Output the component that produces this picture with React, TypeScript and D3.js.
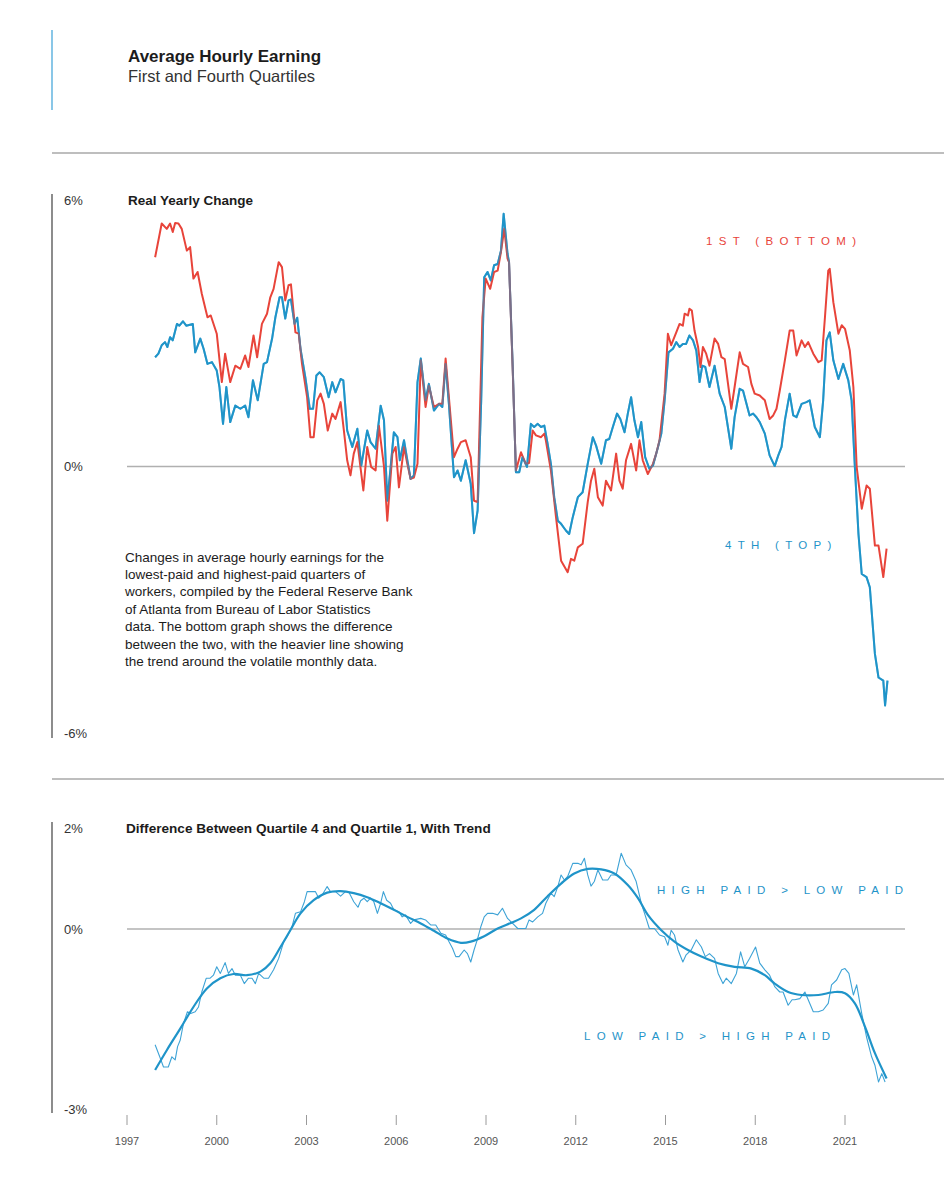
import * as d3 from 'd3'

// ── Data ────────────────────────────────────────────────────────────
// [decimal year, real yearly change %]
const firstQuartile: [number, number][] = [
  [1997.94, 4.71], [1998.16, 5.47], [1998.33, 5.35], [1998.44, 5.47], [1998.53, 5.28], [1998.61, 5.48], [1998.72, 5.47], [1998.83, 5.35],
  [1999.0, 4.86], [1999.11, 4.94], [1999.22, 4.23], [1999.36, 4.38], [1999.5, 3.89], [1999.69, 3.36], [1999.8, 3.4], [2000.0, 2.99],
  [2000.17, 1.9], [2000.28, 2.54], [2000.45, 1.9], [2000.62, 2.27], [2000.79, 2.2], [2000.95, 2.5], [2001.06, 2.24], [2001.23, 2.95],
  [2001.35, 2.46], [2001.51, 3.21], [2001.68, 3.44], [2001.79, 3.81], [2001.9, 4.0], [2002.07, 4.6], [2002.18, 4.49], [2002.29, 3.74],
  [2002.4, 4.08], [2002.48, 4.1], [2002.63, 3.02], [2002.74, 2.99], [2002.85, 2.31], [2003.02, 1.56], [2003.13, 0.66], [2003.24, 0.66],
  [2003.36, 1.49], [2003.47, 1.64], [2003.58, 1.41], [2003.71, 0.81], [2003.86, 1.19], [2003.97, 1.07], [2004.14, 1.45], [2004.25, 0.81],
  [2004.36, 0.14], [2004.47, -0.2], [2004.58, 0.29], [2004.7, 0.55], [2004.9, -0.54], [2005.03, 0.44], [2005.16, -0.01], [2005.31, -0.09],
  [2005.42, 0.92], [2005.59, 0.0], [2005.7, -1.22], [2005.87, 0.29], [2005.98, 0.44], [2006.09, -0.47], [2006.26, 0.44], [2006.37, 0.06],
  [2006.48, -0.28], [2006.59, -0.25], [2006.71, 0.06], [2006.82, 2.39], [2006.98, 1.34], [2007.09, 1.82], [2007.26, 1.34], [2007.43, 1.41],
  [2007.54, 1.41], [2007.65, 2.43], [2007.76, 1.56], [2007.93, 0.21], [2008.05, 0.4], [2008.16, 0.55], [2008.32, 0.59], [2008.49, 0.21],
  [2008.6, -0.77], [2008.72, -0.8], [2008.88, 3.36], [2008.99, 4.23], [2009.14, 4.0], [2009.27, 4.38], [2009.39, 4.41], [2009.5, 4.83],
  [2009.61, 5.35], [2009.72, 4.68], [2009.77, 4.6], [2009.89, 2.24], [2010.0, -0.09], [2010.17, 0.32], [2010.33, 0.06], [2010.44, 0.08],
  [2010.56, 0.81], [2010.67, 0.7], [2010.84, 0.66], [2010.95, 0.74], [2011.0, 0.59], [2011.17, -0.09], [2011.34, -1.14], [2011.51, -2.12],
  [2011.73, -2.38], [2011.84, -2.08], [2011.95, -2.12], [2012.07, -1.82], [2012.23, -1.74], [2012.4, -0.8], [2012.51, -0.32], [2012.62, -0.05],
  [2012.74, -0.69], [2012.9, -0.88], [2013.01, -0.32], [2013.18, -0.54], [2013.35, 0.29], [2013.46, -0.32], [2013.57, -0.5], [2013.68, 0.14],
  [2013.85, 0.51], [2014.02, -0.09], [2014.13, 0.59], [2014.24, 0.14], [2014.41, -0.17], [2014.58, 0.06], [2014.69, 0.29], [2014.8, 0.59],
  [2014.97, 1.64], [2015.08, 2.99], [2015.19, 2.73], [2015.36, 3.02], [2015.47, 3.21], [2015.58, 3.17], [2015.64, 3.44], [2015.75, 3.4],
  [2015.8, 3.55], [2015.88, 3.51], [2015.97, 3.06], [2016.09, 2.69], [2016.17, 2.24], [2016.25, 2.69], [2016.36, 2.54], [2016.47, 2.27],
  [2016.64, 2.88], [2016.76, 2.76], [2016.87, 2.46], [2016.98, 2.42], [2017.09, 1.86], [2017.2, 1.3], [2017.31, 1.79], [2017.48, 2.57],
  [2017.59, 2.31], [2017.76, 2.24], [2017.87, 1.86], [2017.98, 1.64], [2018.15, 1.6], [2018.32, 1.49], [2018.48, 1.07], [2018.6, 1.15],
  [2018.71, 1.3], [2018.82, 1.71], [2018.99, 2.39], [2019.15, 3.06], [2019.27, 3.06], [2019.38, 2.5], [2019.55, 2.84], [2019.66, 2.69],
  [2019.77, 2.8], [2019.94, 2.54], [2020.11, 2.35], [2020.22, 2.39], [2020.33, 3.36], [2020.44, 4.41], [2020.49, 4.45], [2020.61, 3.7],
  [2020.78, 2.99], [2020.89, 3.18], [2021.0, 3.1], [2021.16, 2.61], [2021.28, 1.79], [2021.39, -0.01], [2021.56, -0.95], [2021.72, -0.43],
  [2021.83, -0.5], [2022.0, -1.78], [2022.12, -1.78], [2022.28, -2.49], [2022.39, -1.85],
]

const fourthQuartile: [number, number][] = [
  [1997.94, 2.46], [1998.05, 2.54], [1998.16, 2.73], [1998.27, 2.8], [1998.35, 2.69], [1998.44, 2.91], [1998.53, 2.84], [1998.67, 3.21],
  [1998.75, 3.17], [1998.87, 3.27], [1998.98, 3.17], [1999.2, 3.21], [1999.28, 2.57], [1999.45, 2.88], [1999.56, 2.65], [1999.69, 2.31],
  [1999.84, 2.35], [2000.0, 2.16], [2000.09, 1.79], [2000.21, 0.96], [2000.32, 1.79], [2000.45, 1.0], [2000.62, 1.37], [2000.79, 1.3],
  [2000.95, 1.37], [2001.06, 1.11], [2001.21, 1.94], [2001.37, 1.49], [2001.57, 2.31], [2001.68, 2.35], [2001.85, 2.88], [2001.96, 3.36],
  [2002.1, 3.81], [2002.18, 3.81], [2002.29, 3.33], [2002.4, 3.74], [2002.48, 3.76], [2002.6, 3.21], [2002.69, 3.35], [2002.8, 2.65],
  [2002.96, 2.01], [2003.11, 1.3], [2003.22, 1.3], [2003.33, 2.05], [2003.44, 2.12], [2003.58, 2.01], [2003.74, 1.56], [2003.86, 1.9],
  [2003.97, 1.67], [2004.14, 1.97], [2004.23, 1.94], [2004.36, 0.81], [2004.53, 0.44], [2004.7, 0.85], [2004.83, 0.02], [2005.03, 0.81],
  [2005.14, 0.55], [2005.31, 0.4], [2005.48, 1.37], [2005.59, 1.04], [2005.7, -0.77], [2005.79, -0.17], [2005.92, 0.77], [2006.04, 0.66],
  [2006.12, 0.14], [2006.26, 0.59], [2006.37, 0.14], [2006.48, -0.28], [2006.59, -0.2], [2006.71, 1.9], [2006.82, 2.43], [2006.98, 1.49],
  [2007.09, 1.86], [2007.26, 1.26], [2007.43, 1.41], [2007.54, 1.34], [2007.65, 2.31], [2007.76, 1.41], [2007.93, -0.24], [2008.05, -0.09],
  [2008.16, -0.32], [2008.32, 0.14], [2008.49, -0.39], [2008.6, -1.5], [2008.72, -0.99], [2008.84, 1.5], [2008.94, 4.26], [2009.05, 4.38],
  [2009.16, 4.19], [2009.27, 4.53], [2009.39, 4.56], [2009.5, 4.86], [2009.59, 5.69], [2009.72, 4.79], [2009.77, 4.6], [2009.89, 2.3],
  [2010.0, -0.13], [2010.11, -0.13], [2010.22, 0.21], [2010.37, -0.01], [2010.5, 0.96], [2010.61, 0.89], [2010.73, 0.96], [2010.84, 0.89],
  [2010.95, 0.92], [2011.06, 0.51], [2011.17, 0.06], [2011.28, -0.69], [2011.4, -1.22], [2011.51, -1.29], [2011.67, -1.44], [2011.78, -1.52],
  [2011.9, -1.14], [2012.07, -0.69], [2012.23, -0.58], [2012.4, 0.06], [2012.57, 0.66], [2012.68, 0.47], [2012.85, 0.06], [2013.01, 0.59],
  [2013.12, 0.62], [2013.24, 0.89], [2013.38, 1.19], [2013.49, 1.07], [2013.63, 0.77], [2013.74, 1.19], [2013.85, 1.56], [2013.96, 1.04],
  [2014.08, 0.66], [2014.19, 1.0], [2014.32, 0.21], [2014.46, -0.05], [2014.58, 0.02], [2014.75, 0.44], [2014.86, 0.74], [2014.97, 1.49],
  [2015.1, 2.57], [2015.25, 2.65], [2015.36, 2.8], [2015.47, 2.69], [2015.58, 2.76], [2015.69, 2.76], [2015.8, 2.95], [2015.92, 2.84],
  [2016.03, 2.61], [2016.14, 1.9], [2016.23, 2.27], [2016.33, 2.24], [2016.47, 1.79], [2016.64, 2.27], [2016.81, 1.64], [2016.98, 1.34],
  [2017.2, 0.4], [2017.31, 1.11], [2017.48, 1.75], [2017.59, 1.71], [2017.81, 1.15], [2017.93, 1.19], [2018.04, 1.11], [2018.15, 1.0],
  [2018.32, 0.74], [2018.48, 0.25], [2018.65, 0.01], [2018.77, 0.25], [2018.88, 0.44], [2018.99, 1.04], [2019.15, 1.64], [2019.27, 1.15],
  [2019.38, 1.11], [2019.55, 1.41], [2019.71, 1.45], [2019.82, 1.49], [2019.99, 0.89], [2020.16, 0.66], [2020.27, 1.49], [2020.38, 2.84],
  [2020.49, 3.02], [2020.61, 2.39], [2020.78, 1.97], [2020.94, 2.31], [2021.11, 1.94], [2021.22, 1.49], [2021.33, -0.01], [2021.45, -1.52],
  [2021.56, -2.42], [2021.72, -2.49], [2021.83, -2.72], [2022.0, -4.22], [2022.12, -4.75], [2022.28, -4.82], [2022.34, -5.38], [2022.42, -4.82],
]

// Q4 minus Q1, monthly
const difference: [number, number][] = [
  [1997.94, -1.93], [1998.11, -2.15], [1998.22, -2.3], [1998.38, -2.3], [1998.5, -2.13], [1998.61, -2.18], [1998.69, -1.96], [1998.78, -1.85],
  [1998.89, -1.57], [1999.02, -1.38], [1999.13, -1.41], [1999.28, -1.38], [1999.39, -1.3], [1999.5, -1.05], [1999.65, -0.82], [1999.78, -0.82],
  [1999.89, -0.77], [2000.0, -0.63], [2000.12, -0.74], [2000.28, -0.56], [2000.39, -0.74], [2000.51, -0.66], [2000.62, -0.77], [2000.79, -0.77],
  [2000.92, -0.91], [2001.06, -0.82], [2001.18, -0.82], [2001.29, -0.91], [2001.4, -0.74], [2001.57, -0.82], [2001.73, -0.82], [2001.9, -0.68],
  [2002.07, -0.49], [2002.24, -0.21], [2002.35, -0.13], [2002.52, 0.05], [2002.63, 0.31], [2002.8, 0.34], [2002.93, 0.54], [2003.02, 0.74],
  [2003.15, 0.74], [2003.3, 0.74], [2003.41, 0.61], [2003.52, 0.67], [2003.69, 0.84], [2003.8, 0.74], [2003.97, 0.74], [2004.14, 0.65],
  [2004.3, 0.74], [2004.41, 0.74], [2004.58, 0.54], [2004.72, 0.43], [2004.81, 0.56], [2004.92, 0.61], [2005.03, 0.54], [2005.14, 0.61],
  [2005.25, 0.54], [2005.37, 0.31], [2005.48, 0.51], [2005.57, 0.74], [2005.68, 0.57], [2005.81, 0.51], [2005.92, 0.38], [2006.09, 0.34],
  [2006.2, 0.24], [2006.31, 0.28], [2006.48, 0.11], [2006.59, 0.18], [2006.82, 0.21], [2006.98, 0.18], [2007.15, 0.08], [2007.32, 0.08],
  [2007.49, -0.07], [2007.65, -0.1], [2007.76, -0.21], [2007.88, -0.32], [2007.99, -0.46], [2008.1, -0.46], [2008.27, -0.35], [2008.38, -0.41],
  [2008.49, -0.55], [2008.6, -0.35], [2008.72, -0.16], [2008.83, 0.05], [2008.94, 0.24], [2009.05, 0.31], [2009.22, 0.31], [2009.39, 0.28],
  [2009.55, 0.41], [2009.72, 0.21], [2009.89, 0.11], [2010.06, 0.01], [2010.17, 0.01], [2010.33, 0.01], [2010.44, 0.18], [2010.56, 0.14],
  [2010.73, 0.24], [2010.89, 0.31], [2011.0, 0.51], [2011.17, 0.71], [2011.28, 0.64], [2011.4, 0.84], [2011.51, 1.07], [2011.62, 0.97],
  [2011.73, 1.04], [2011.9, 1.3], [2012.07, 1.3], [2012.18, 1.27], [2012.29, 1.4], [2012.4, 1.07], [2012.51, 0.85], [2012.62, 0.94],
  [2012.74, 1.17], [2012.9, 0.97], [2013.07, 0.97], [2013.18, 1.07], [2013.35, 1.07], [2013.52, 1.5], [2013.68, 1.27], [2013.85, 1.17],
  [2014.02, 0.94], [2014.19, 0.51], [2014.3, 0.31], [2014.46, 0.01], [2014.63, 0.01], [2014.8, -0.1], [2014.97, -0.13], [2015.08, -0.27],
  [2015.19, -0.02], [2015.3, -0.1], [2015.42, -0.35], [2015.58, -0.55], [2015.69, -0.43], [2015.86, -0.35], [2016.03, -0.18], [2016.2, -0.3],
  [2016.33, -0.46], [2016.47, -0.41], [2016.64, -0.49], [2016.76, -0.74], [2016.92, -0.91], [2017.03, -0.82], [2017.2, -0.91], [2017.37, -0.74],
  [2017.51, -0.38], [2017.65, -0.63], [2017.81, -0.49], [2018.01, -0.3], [2018.15, -0.57], [2018.32, -0.68], [2018.48, -0.77], [2018.65, -0.96],
  [2018.82, -1.05], [2018.93, -1.05], [2019.1, -1.27], [2019.23, -1.18], [2019.32, -1.18], [2019.49, -1.16], [2019.66, -1.05], [2019.77, -1.18],
  [2019.94, -1.38], [2020.11, -1.38], [2020.27, -1.35], [2020.44, -1.24], [2020.55, -0.93], [2020.72, -0.85], [2020.89, -0.68], [2021.0, -0.66],
  [2021.13, -0.74], [2021.28, -1.1], [2021.39, -0.93], [2021.56, -1.41], [2021.72, -1.8], [2021.89, -2.13], [2022.0, -2.27], [2022.12, -2.55],
  [2022.23, -2.41], [2022.34, -2.55],
]

const trend: [number, number][] = [
  [1997.94, -2.35], [1998.33, -2.02], [1998.78, -1.66], [1999.22, -1.3], [1999.67, -0.99], [2000.12, -0.82], [2000.56, -0.75], [2001.01, -0.77],
  [2001.46, -0.71], [2001.79, -0.57], [2002.13, -0.3], [2002.46, -0.02], [2002.8, 0.31], [2003.24, 0.57], [2003.69, 0.72], [2004.14, 0.75],
  [2004.58, 0.71], [2005.03, 0.63], [2005.48, 0.51], [2005.92, 0.38], [2006.37, 0.24], [2006.82, 0.11], [2007.26, -0.03], [2007.71, -0.16],
  [2008.16, -0.23], [2008.49, -0.21], [2008.94, -0.12], [2009.39, 0.01], [2009.83, 0.12], [2010.17, 0.21], [2010.61, 0.38], [2011.06, 0.65],
  [2011.51, 0.9], [2011.95, 1.1], [2012.4, 1.19], [2012.85, 1.18], [2013.29, 1.1], [2013.74, 0.87], [2014.08, 0.61], [2014.41, 0.28],
  [2014.86, -0.02], [2015.3, -0.21], [2015.75, -0.35], [2016.2, -0.46], [2016.76, -0.57], [2017.31, -0.63], [2017.87, -0.66], [2018.32, -0.77],
  [2018.65, -0.91], [2019.1, -1.05], [2019.55, -1.1], [2020.11, -1.1], [2020.66, -1.05], [2021.0, -1.07], [2021.33, -1.24], [2021.67, -1.63],
  [2022.0, -2.07], [2022.39, -2.49],
]

const yearTicks = [1997, 2000, 2003, 2006, 2009, 2012, 2015, 2018, 2021]
const topTicks = [6, 0, -6]
const bottomTicks = [2, 0, -3]

const noteLines = [
  'Changes in average hourly earnings for the',
  'lowest-paid and highest-paid quarters of',
  'workers, compiled by the Federal Reserve Bank',
  'of Atlanta from Bureau of Labor Statistics',
  'data. The bottom graph shows the difference',
  'between the two, with the heavier line showing',
  'the trend around the volatile monthly data.',
]

// ── Style ────────────────────────────────────────────────────────────
const W = 944
const H = 1200
const RED = '#e8443a'
const BLUE = '#1f94c9'
const BLUE_LIGHT = '#3ea3d6'
const ACCENT = '#6cb9e2'
const RULE = '#a8a8a8'
const AXIS = '#707070'
const ZERO = '#b0b0b0'
const INK = '#1c1c1c'
const LABEL = '#333'
const FONT = "'Liberation Sans', Arial, Helvetica, sans-serif"

const AXIS_X = 52
const LABEL_X = 64
const PLOT_LEFT = 127
const PLOT_RIGHT = 905

export default function App() {
  const x = d3.scaleLinear().domain([1997, 2021]).range([127, 845])
  const yTop = d3.scaleLinear().domain([-6, 6]).range([733, 200])
  // the lower panel's labels are not evenly spaced, so keep them on a polylinear scale
  const yBottom = d3.scaleLinear().domain([-3, 0, 2]).range([1109, 929, 828])

  const topLine = d3
    .line<[number, number]>()
    .x((d) => x(d[0]))
    .y((d) => yTop(d[1]))

  const diffLine = d3
    .line<[number, number]>()
    .x((d) => x(d[0]))
    .y((d) => yBottom(d[1]))

  const trendLine = d3
    .line<[number, number]>()
    .x((d) => x(d[0]))
    .y((d) => yBottom(d[1]))
    .curve(d3.curveCatmullRom.alpha(0.5))

  const spaced = { letterSpacing: '6.3px' }

  return (
    <div style={{ position: 'absolute', left: 0, top: 0 }}>
      <svg width={W} height={H} style={{ display: 'block', fontFamily: FONT }}>
        <rect width={W} height={H} fill="#fff" />

        {/* header */}
        <line x1={AXIS_X} x2={AXIS_X} y1={30} y2={110} stroke={ACCENT} strokeWidth={1.6} />
        <text x={128} y={62} fontSize={17} fontWeight={700} fill={INK}>
          Average Hourly Earning
        </text>
        <text x={128} y={82} fontSize={16.5} fill={LABEL}>
          First and Fourth Quartiles
        </text>
        <line x1={AXIS_X} x2={W} y1={153} y2={153} stroke={RULE} strokeWidth={1.4} />

        {/* ── top panel ── */}
        <line x1={AXIS_X} x2={AXIS_X} y1={194} y2={738} stroke={AXIS} strokeWidth={1.6} />
        {topTicks.map((t) => (
          <text key={t} x={LABEL_X} y={yTop(t)} fontSize={13} fill={LABEL} dominantBaseline="central">
            {`${t}%`}
          </text>
        ))}
        <text x={128} y={yTop(6)} fontSize={13.5} fontWeight={700} fill={INK} dominantBaseline="central">
          Real Yearly Change
        </text>
        <line x1={PLOT_LEFT} x2={PLOT_RIGHT} y1={yTop(0)} y2={yTop(0)} stroke={ZERO} strokeWidth={1.5} />

        <path d={topLine(fourthQuartile) ?? ''} fill="none" stroke={BLUE} strokeWidth={2} strokeLinejoin="round" />
        <path d={topLine(firstQuartile) ?? ''} fill="none" stroke={RED} strokeWidth={2} strokeLinejoin="round" />
        <path d={topLine(fourthQuartile) ?? ''} fill="none" stroke={BLUE} strokeWidth={2} strokeLinejoin="round" opacity={0.55} />

        <text x={706} y={241} fontSize={11.5} fill={RED} dominantBaseline="central" style={spaced}>
          1ST (BOTTOM)
        </text>
        <text x={725} y={545} fontSize={11.5} fill={BLUE} dominantBaseline="central" style={spaced}>
          4TH (TOP)
        </text>

        {noteLines.map((line, i) => (
          <text key={i} x={125} y={557 + i * 17.4} fontSize={13.5} fill={INK} dominantBaseline="central">
            {line}
          </text>
        ))}

        <line x1={AXIS_X} x2={W} y1={779} y2={779} stroke={RULE} strokeWidth={1.4} />

        {/* ── bottom panel ── */}
        <line x1={AXIS_X} x2={AXIS_X} y1={822} y2={1113} stroke={AXIS} strokeWidth={1.6} />
        {bottomTicks.map((t) => (
          <text key={t} x={LABEL_X} y={yBottom(t)} fontSize={13} fill={LABEL} dominantBaseline="central">
            {`${t}%`}
          </text>
        ))}
        <text x={126} y={yBottom(2)} fontSize={13.6} fontWeight={700} fill={INK} dominantBaseline="central">
          Difference Between Quartile 4 and Quartile 1, With Trend
        </text>
        <line x1={PLOT_LEFT} x2={PLOT_RIGHT} y1={yBottom(0)} y2={yBottom(0)} stroke={ZERO} strokeWidth={1.5} />

        <path d={diffLine(difference) ?? ''} fill="none" stroke={BLUE_LIGHT} strokeWidth={1.1} strokeLinejoin="round" />
        <path d={trendLine(trend) ?? ''} fill="none" stroke={BLUE} strokeWidth={2.2} />

        <text x={657} y={890} fontSize={11.5} fill={BLUE} dominantBaseline="central" style={spaced}>
          {'HIGH PAID > LOW PAID'}
        </text>
        <text x={584} y={1036} fontSize={11.5} fill={BLUE} dominantBaseline="central" style={spaced}>
          {'LOW PAID > HIGH PAID'}
        </text>

        {/* x axis */}
        {yearTicks.map((yr) => (
          <g key={yr} transform={`translate(${x(yr)},0)`}>
            <line y1={1115} y2={1125} stroke="#9a9a9a" strokeWidth={1} />
            <text y={1141} fontSize={11} fill="#555" textAnchor="middle" dominantBaseline="central">
              {yr}
            </text>
          </g>
        ))}
      </svg>
    </div>
  )
}
